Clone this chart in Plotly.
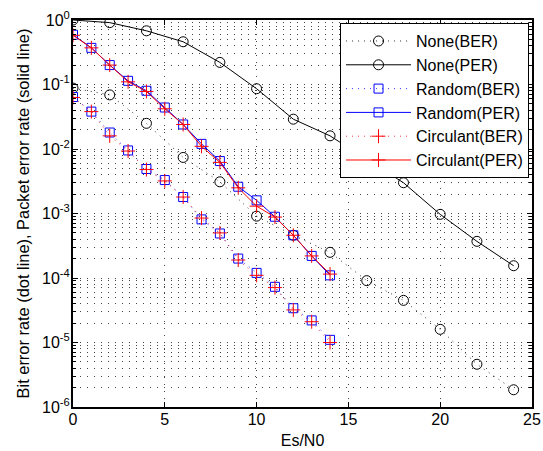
import plotly.graph_objects as go

# Es/N0 sample points
snr_none = [0, 2, 4, 6, 8, 10, 12, 14, 16, 18, 20, 22, 24]
snr_coded = list(range(0, 15))

# error rates
none_ber = [0.088, 0.069, 0.025, 0.0074, 0.0031, 0.00091, 0.00046, 0.00025,
            9.1e-5, 4.5e-5, 1.6e-5, 4.6e-6, 1.85e-6]
none_per = [1.0, 0.91, 0.68, 0.46, 0.22, 0.086, 0.029, 0.016,
            0.0069, 0.0030, 0.00097, 0.00037, 0.000155]
random_ber = [0.064, 0.038, 0.018, 0.0095, 0.0049, 0.0033, 0.0018, 0.00081,
              0.00049, 0.0002, 0.00012, 7.3e-5, 3.4e-5, 2.2e-5, 1.1e-5]
random_per = [0.59, 0.37, 0.20, 0.114, 0.080, 0.044, 0.024, 0.012,
              0.0065, 0.0026, 0.0016, 0.00089, 0.00046, 0.00022, 0.00011]
circ_ber = [0.063, 0.038, 0.016, 0.0093, 0.0048, 0.0032, 0.0018, 0.00085,
            0.0005, 0.00019, 0.00011, 7.1e-5, 3.2e-5, 2.1e-5, 1.0e-5]
circ_per = [0.58, 0.37, 0.20, 0.11, 0.078, 0.042, 0.024, 0.011,
            0.0062, 0.0025, 0.0013, 0.00088, 0.00046, 0.00022, 0.000115]

y_tickvals = [1, 1e-1, 1e-2, 1e-3, 1e-4, 1e-5, 1e-6]
y_ticktext = ["10<sup>0</sup>", "10<sup>-1</sup>", "10<sup>-2</sup>", "10<sup>-3</sup>",
              "10<sup>-4</sup>", "10<sup>-5</sup>", "10<sup>-6</sup>"]

FONT = "Liberation Sans, Arial, Helvetica, sans-serif"
GRID_DASH = "1px,6px"

series = [
    ("None(BER)", snr_none, none_ber, "black", "dot", "circle-open", 10),
    ("None(PER)", snr_none, none_per, "black", "solid", "circle-open", 10),
    ("Random(BER)", snr_coded, random_ber, "blue", "dot", "square-open", 9),
    ("Random(PER)", snr_coded, random_per, "blue", "solid", "square-open", 9),
    ("Circulant(BER)", snr_coded, circ_ber, "red", "dot", "cross-thin-open", 10),
    ("Circulant(PER)", snr_coded, circ_per, "red", "solid", "cross-thin-open", 10),
]

fig = go.Figure()
for name, x, y, color, dash, symbol, size in series:
    fig.add_trace(go.Scatter(
        x=x, y=y, name=name, mode="lines+markers",
        line=dict(color=color, width=1 if dash == "solid" else 0.8,
                  dash="solid" if dash == "solid" else "1px,5px"),
        marker=dict(symbol=symbol, size=size, color=color,
                    line=dict(color=color, width=1)),
    ))

fig.update_xaxes(
    range=[0, 25], dtick=5, tick0=0, automargin=False,
    showline=True, linecolor="black", linewidth=2, mirror="ticks",
    ticks="inside", ticklen=5, tickcolor="black", ticklabelstandoff=-3,
    showgrid=True, gridcolor="#444", griddash=GRID_DASH, gridwidth=1,
    zeroline=False,
    tickfont=dict(family=FONT, size=16, color="black"),
    title=dict(text="Es/N0", font=dict(family=FONT, size=16, color="black"), standoff=8),
)
fig.update_yaxes(
    type="log", range=[-6, 0], automargin=False,
    tickvals=y_tickvals, ticktext=y_ticktext,
    showline=True, linecolor="black", linewidth=2, mirror="ticks",
    ticks="inside", ticklen=5, tickcolor="black", ticklabelstandoff=-2,
    showgrid=True, gridcolor="#444", griddash=GRID_DASH, gridwidth=1,
    minor=dict(dtick="D1", ticks="inside", ticklen=3, tickcolor="black",
               showgrid=True, gridcolor="#444", griddash=GRID_DASH, gridwidth=1),
    zeroline=False,
    tickfont=dict(family=FONT, size=16, color="black"),
    title=dict(text="Bit error rate (dot line), Packet error rate (solid line)",
               font=dict(family=FONT, size=16.4, color="black"), standoff=8),
)

fig.update_layout(
    width=543, height=451,
    margin=dict(l=73, r=11, t=20, b=44),
    paper_bgcolor="white", plot_bgcolor="white",
    font=dict(family=FONT, color="black"),
    legend=dict(
        x=0.9935, y=0.992, xanchor="right", yanchor="top",
        bgcolor="white", bordercolor="black", borderwidth=1,
        font=dict(family=FONT, size=16, color="black"),
        itemwidth=65,
    ),
)

# drop the browser's default body margin so the figure fills the window
fig.write_html("out.html", config={"displayModeBar": False},
               post_script="document.body.style.margin = '0';")
